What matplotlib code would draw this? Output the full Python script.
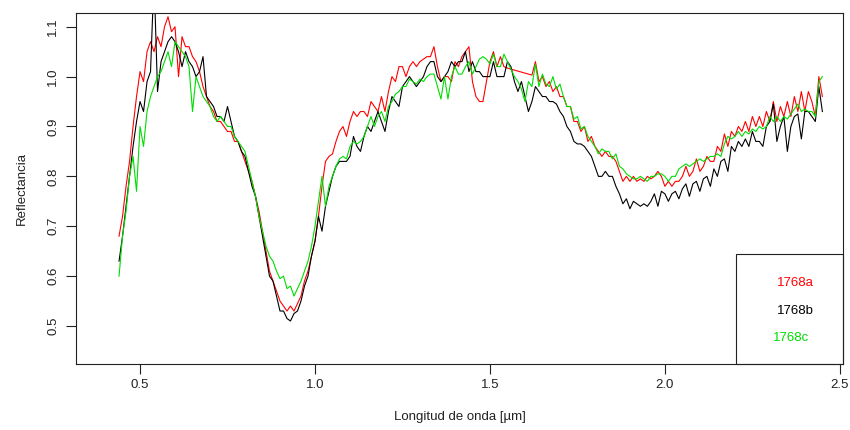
"""Reflectance spectra of 1768a, 1768b and 1768c."""
import numpy as np
import matplotlib
matplotlib.use("Agg")
import matplotlib.pyplot as plt
from matplotlib.patches import Rectangle

plt.rcParams['font.family'] = ['Liberation Sans', 'DejaVu Sans']

# wavelength grid (micrometres), 0.44 .. 2.45 in steps of 0.01
wl = np.round(np.arange(0.44, 2.4551, 0.01), 2)

# reflectance, one value per grid point
refl_a = [
    0.68, 0.72, 0.78, 0.83, 0.90, 0.96, 1.01, 0.99, 1.05, 1.07,   # 0.44
    1.05, 1.08, 1.06, 1.10, 1.12, 1.09, 1.10, 1.00, 1.08, 1.06,   # 0.54
    1.06, 1.04, 1.03, 1.01, 0.98, 0.96, 0.94, 0.93, 0.91, 0.91,   # 0.64
    0.90, 0.89, 0.89, 0.87, 0.87, 0.85, 0.83, 0.81, 0.79, 0.76,   # 0.74
    0.73, 0.69, 0.65, 0.61, 0.59, 0.57, 0.55, 0.54, 0.53, 0.54,   # 0.84
    0.53, 0.545, 0.56, 0.59, 0.61, 0.64, 0.67, 0.72, 0.78, 0.83,  # 0.94
    0.84, 0.845, 0.87, 0.89, 0.90, 0.88, 0.91, 0.93, 0.92, 0.93,  # 1.04
    0.93, 0.92, 0.95, 0.94, 0.93, 0.96, 0.93, 0.97, 1.00, 0.99,   # 1.14
    1.02, 1.02, 1.00, 1.02, 1.03, 1.02, 1.03, 1.035, 1.04, 1.04,  # 1.24
    1.06, 1.02, 0.99, 1.00, 1.00, 0.99, 1.03, 1.02, 1.04, 1.05,   # 1.34
    1.06, 0.99, 0.96, 0.95, 0.95, 0.99, 1.03, 1.05, 1.02, 1.04,   # 1.44
    1.02, 1.017, 1.015, 1.013, 1.011, 1.009, 1.007, 1.005, 1.003, 1.03,  # 1.54
    0.99, 1.00, 0.98, 0.99, 0.97, 0.98, 0.96, 0.96, 0.94, 0.94,   # 1.64
    0.91, 0.91, 0.89, 0.90, 0.87, 0.88, 0.86, 0.85, 0.84, 0.85,   # 1.74
    0.84, 0.84, 0.83, 0.81, 0.79, 0.80, 0.79, 0.80, 0.79, 0.795,  # 1.84
    0.79, 0.80, 0.795, 0.80, 0.81, 0.80, 0.78, 0.79, 0.78, 0.79,  # 1.94
    0.79, 0.80, 0.82, 0.80, 0.81, 0.835, 0.81, 0.82, 0.84, 0.83,  # 2.04
    0.83, 0.86, 0.85, 0.885, 0.86, 0.89, 0.88, 0.90, 0.89, 0.91,  # 2.14
    0.89, 0.92, 0.90, 0.92, 0.90, 0.93, 0.91, 0.95, 0.91, 0.94,   # 2.24
    0.92, 0.95, 0.92, 0.96, 0.93, 0.97, 0.93, 0.97, 0.95, 0.92,   # 2.34
    1.00, 0.96,                                                   # 2.44
]
refl_b = [
    0.63, 0.68, 0.74, 0.80, 0.86, 0.91, 0.95, 0.93, 0.99, 1.01,   # 0.44
    1.20, 0.97, 1.03, 1.05, 1.07, 1.08, 1.07, 1.05, 1.02, 1.05,   # 0.54
    1.03, 1.02, 1.00, 1.01, 1.04, 0.96, 0.95, 0.94, 0.92, 0.92,   # 0.64
    0.91, 0.94, 0.91, 0.88, 0.87, 0.85, 0.84, 0.81, 0.78, 0.76,   # 0.74
    0.72, 0.68, 0.64, 0.60, 0.59, 0.56, 0.53, 0.53, 0.515, 0.51,  # 0.84
    0.525, 0.53, 0.55, 0.58, 0.60, 0.64, 0.67, 0.72, 0.69, 0.74,  # 0.94
    0.77, 0.80, 0.82, 0.83, 0.83, 0.83, 0.84, 0.88, 0.86, 0.85,   # 1.04
    0.88, 0.90, 0.89, 0.91, 0.93, 0.91, 0.89, 0.93, 0.96, 0.95,   # 1.14
    0.94, 0.98, 0.99, 1.00, 0.99, 0.98, 0.99, 1.00, 1.02, 1.03,   # 1.24
    1.03, 1.00, 0.99, 1.00, 1.01, 1.03, 1.02, 1.03, 1.03, 1.05,   # 1.34
    1.01, 1.03, 1.01, 1.01, 1.00, 1.00, 1.00, 1.03, 1.00, 1.00,   # 1.44
    1.00, 1.03, 1.02, 0.99, 0.97, 0.99, 0.96, 0.93, 0.95, 0.98,   # 1.54
    0.97, 0.96, 0.96, 0.95, 0.95, 0.945, 0.93, 0.92, 0.90, 0.89,  # 1.64
    0.87, 0.865, 0.865, 0.86, 0.85, 0.84, 0.82, 0.80, 0.80, 0.81, # 1.74
    0.80, 0.80, 0.78, 0.765, 0.745, 0.755, 0.735, 0.75, 0.745, 0.74,  # 1.84
    0.745, 0.74, 0.75, 0.765, 0.74, 0.77, 0.765, 0.75, 0.765, 0.77,   # 1.94
    0.755, 0.775, 0.785, 0.76, 0.785, 0.79, 0.77, 0.795, 0.80, 0.78,  # 2.04
    0.815, 0.80, 0.83, 0.835, 0.81, 0.86, 0.85, 0.87, 0.86, 0.875,   # 2.14
    0.86, 0.89, 0.87, 0.87, 0.86, 0.90, 0.91, 0.945, 0.87, 0.90,     # 2.24
    0.92, 0.85, 0.90, 0.92, 0.925, 0.875, 0.93, 0.93, 0.92, 0.91,    # 2.34
    0.98, 0.93,                                                      # 2.44
]
refl_c = [
    0.60, 0.68, 0.73, 0.80, 0.84, 0.77, 0.90, 0.86, 0.93, 0.96,   # 0.44
    0.98, 1.00, 1.01, 1.03, 1.05, 1.02, 1.07, 1.06, 1.05, 1.04,   # 0.54
    1.02, 0.93, 1.00, 0.98, 0.96, 0.95, 0.94, 0.92, 0.91, 0.92,   # 0.64
    0.91, 0.90, 0.90, 0.88, 0.87, 0.86, 0.85, 0.82, 0.79, 0.76,   # 0.74
    0.72, 0.69, 0.66, 0.64, 0.63, 0.61, 0.595, 0.60, 0.575, 0.58, # 0.84
    0.56, 0.575, 0.59, 0.61, 0.63, 0.66, 0.70, 0.75, 0.80, 0.74,  # 0.94
    0.78, 0.80, 0.82, 0.835, 0.84, 0.835, 0.86, 0.87, 0.865, 0.87,  # 1.04
    0.88, 0.90, 0.92, 0.90, 0.92, 0.93, 0.91, 0.94, 0.95, 0.965,  # 1.14
    0.97, 0.98, 0.98, 0.995, 0.99, 0.985, 0.995, 0.99, 1.00, 1.005,  # 1.24
    1.005, 0.98, 0.955, 1.00, 0.955, 1.00, 1.02, 1.005, 1.005, 1.02, # 1.34
    1.03, 1.005, 1.02, 1.035, 1.04, 1.035, 1.025, 1.045, 1.02, 1.02, # 1.44
    1.045, 1.03, 1.015, 1.00, 0.99, 0.975, 0.95, 0.99, 0.98, 1.025,  # 1.54
    0.98, 1.005, 0.985, 0.98, 1.00, 0.975, 0.985, 0.96, 0.94, 0.94,  # 1.64
    0.915, 0.92, 0.895, 0.90, 0.88, 0.87, 0.86, 0.845, 0.855, 0.85,  # 1.74
    0.85, 0.835, 0.845, 0.82, 0.815, 0.805, 0.80, 0.795, 0.795, 0.80,  # 1.84
    0.795, 0.79, 0.80, 0.80, 0.805, 0.805, 0.80, 0.79, 0.80, 0.80,     # 1.94
    0.815, 0.82, 0.825, 0.82, 0.825, 0.83, 0.835, 0.83, 0.835, 0.84,   # 2.04
    0.84, 0.845, 0.84, 0.865, 0.88, 0.875, 0.88, 0.89, 0.88, 0.89,     # 2.14
    0.885, 0.895, 0.89, 0.90, 0.895, 0.90, 0.92, 0.91, 0.92, 0.91,     # 2.24
    0.92, 0.915, 0.925, 0.935, 0.945, 0.93, 0.935, 0.93, 0.93, 0.92,   # 2.34
    0.99, 1.00,                                                        # 2.44
]

names = ['1768a', '1768b', '1768c']
colors = ['#ff0000', '#000000', '#00dd00']

fig = plt.figure(figsize=(8.5, 4.3), dpi=100)
ax = fig.add_axes([76 / 850, 66 / 430, 767 / 850, 351 / 430])

for y, c in zip([refl_a, refl_b, refl_c], colors):
    ax.plot(wl, y, color=c, lw=0.8)

ax.set_xlim(0.317, 2.509)
ax.set_ylim(0.4238, 1.1275)
ax.set_xticks([0.5, 1.0, 1.5, 2.0, 2.5])
ax.set_xticklabels(['0.5', '1.0', '1.5', '2.0', '2.5'])
ax.set_yticks([0.5, 0.6, 0.7, 0.8, 0.9, 1.0, 1.1])
ax.set_yticklabels(['0.5', '0.6', '0.7', '0.8', '0.9', '1.0', '1.1'],
                   rotation=90, va='center')
ax.tick_params(direction='out', length=7, width=0.8, labelsize=9.5,
               colors='#222222')
ax.tick_params(axis='x', pad=4)
ax.tick_params(axis='y', pad=5)
for s in ax.spines.values():
    s.set_linewidth(0.8)
    s.set_color('#222222')

ax.set_xlabel('Longitud de onda [\u00b5m]', fontsize=9.5, color='#222222',
              labelpad=14)
ax.set_ylabel('Reflectancia', fontsize=9.5, color='#222222', labelpad=14)

# legend box, text only
ax.add_patch(Rectangle((0.8605, 0.0), 0.14, 0.3134, transform=ax.transAxes,
                       fill=False, lw=0.8, edgecolor='#222222', clip_on=False))
for name, c, tx, ty in zip(names, colors, [0.9133, 0.9137, 0.9087],
                           [0.2308, 0.151, 0.074]):
    ax.text(tx, ty, name, color=c, fontsize=9.5, ha='left', va='center',
            transform=ax.transAxes)

fig.savefig('out.png', dpi=100)
